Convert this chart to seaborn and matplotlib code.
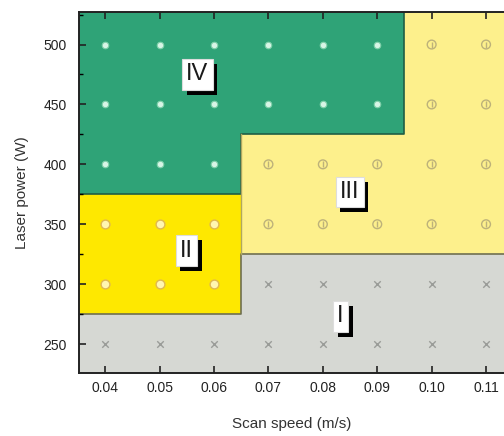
import numpy as np
import pandas as pd
import matplotlib
matplotlib.use("Agg")
import matplotlib.pyplot as plt
import matplotlib.patheffects as pe
import seaborn as sns
from matplotlib.patches import Rectangle
from matplotlib.ticker import MultipleLocator

speeds = [0.04, 0.05, 0.06, 0.07, 0.08, 0.09, 0.10, 0.11]
powers = [250, 300, 350, 400, 450, 500]
# process window for each power row (speed order as above)
regime_rows = {
    250: ["I", "I", "I", "I", "I", "I", "I", "I"],
    300: ["II", "II", "II", "I", "I", "I", "I", "I"],
    350: ["II", "II", "II", "III", "III", "III", "III", "III"],
    400: ["IV", "IV", "IV", "III", "III", "III", "III", "III"],
    450: ["IV", "IV", "IV", "IV", "IV", "IV", "III", "III"],
    500: ["IV", "IV", "IV", "IV", "IV", "IV", "III", "III"],
}
# shaded areas: regime, x0, x1, y0, y1
areas = [
    ("I", 0.03, 0.065, 200, 275),
    ("I", 0.065, 0.12, 200, 325),
    ("II", 0.03, 0.065, 275, 375),
    ("III", 0.065, 0.12, 325, 425),
    ("III", 0.095, 0.12, 425, 550),
    ("IV", 0.03, 0.065, 375, 550),
    ("IV", 0.065, 0.095, 425, 550),
]
label_pos = {"IV": (0.0569, 475), "II": (0.0549, 328), "III": (0.0849, 377), "I": (0.0832, 273)}

fill = {"I": "#d6d8d3", "II": "#fee800", "III": "#fdf08c", "IV": "#2fa377"}

rows = []
for p in powers:
    for s, r in zip(speeds, regime_rows[p]):
        rows.append((s, p, r))
df = pd.DataFrame(rows, columns=["speed", "power", "regime"])

plt.rcParams["font.family"] = ["Liberation Sans", "DejaVu Sans"]
fig = plt.figure(figsize=(5.04, 4.36), dpi=100)
ax = fig.add_axes([0.157, 0.145, 0.843, 0.827])

for r, x0, x1, y0, y1 in areas:
    ax.add_patch(Rectangle((x0, y0), x1 - x0, y1 - y0, facecolor=fill[r], edgecolor="none", zorder=0))
# dark boundary lines
ax.plot([0.03, 0.065, 0.065, 0.12], [275, 275, 325, 325], color="#6f6f50", lw=1.2, zorder=1)
ax.plot([0.03, 0.065, 0.065, 0.095, 0.095, 0.095], [375, 375, 425, 425, 425, 550], color="#1f5e45", lw=1.2, zorder=1)
ax.plot([0.065, 0.065], [325, 425], color="#b0a860", lw=1.0, zorder=1)

sns.scatterplot(data=df[df.regime == "I"], x="speed", y="power", marker="x", s=22,
                color="#9a9c98", linewidth=1.0, ax=ax, zorder=3)
sns.scatterplot(data=df[df.regime == "II"], x="speed", y="power", marker="o", s=40,
                facecolor="#fff6b0", edgecolor="#e0b850", linewidth=1.0, ax=ax, zorder=3)
sns.scatterplot(data=df[df.regime == "III"], x="speed", y="power", marker="o", s=40,
                facecolor="none", edgecolor="#bdb27a", linewidth=1.0, ax=ax, zorder=3)
sns.scatterplot(data=df[df.regime == "III"], x="speed", y="power", marker="|", s=18,
                color="#bdb27a", linewidth=1.0, ax=ax, zorder=3)
sns.scatterplot(data=df[df.regime == "IV"], x="speed", y="power", marker="o", s=22,
                facecolor="#d8f5e6", edgecolor="#7fd0aa", linewidth=0.8, ax=ax, zorder=3)

for lab, (x, y) in label_pos.items():
    t = ax.text(x, y, lab, ha="center", va="center", fontsize=17, color="#1a1a1a",
                bbox=dict(boxstyle="square,pad=0.18", fc="white", ec="#dddddd", lw=0.8), zorder=6)
    # black drop shadow on the label box
    t.get_bbox_patch().set_path_effects([
        pe.SimplePatchShadow(offset=(3.5, -3.5), shadow_rgbFace="black", alpha=1.0), pe.Normal()])

ax.set_xlim(0.0352, 0.1133)
ax.set_ylim(226, 527)
ax.set_xticks(speeds)
ax.set_xticklabels([f"{s:.2f}" for s in speeds])
ax.set_yticks(powers)
ax.yaxis.set_minor_locator(MultipleLocator(25))
ax.tick_params(axis="both", which="major", direction="in", length=5, width=1.2, labelsize=10,
               colors="#222222", top=True, labeltop=False)
ax.tick_params(axis="y", which="minor", direction="in", length=3, width=1.0)
ax.tick_params(axis="x", pad=6)
ax.tick_params(axis="y", pad=9)
for side in ["left", "bottom", "top"]:
    ax.spines[side].set_linewidth(1.4)
    ax.spines[side].set_color("#222222")
ax.spines["right"].set_visible(False)

ax.set_xlabel("Scan speed (m/s)", fontsize=11, labelpad=16, color="#333333")
ax.set_ylabel("Laser power (W)", fontsize=11, labelpad=10, color="#333333")

fig.savefig("out.png", dpi=100)
